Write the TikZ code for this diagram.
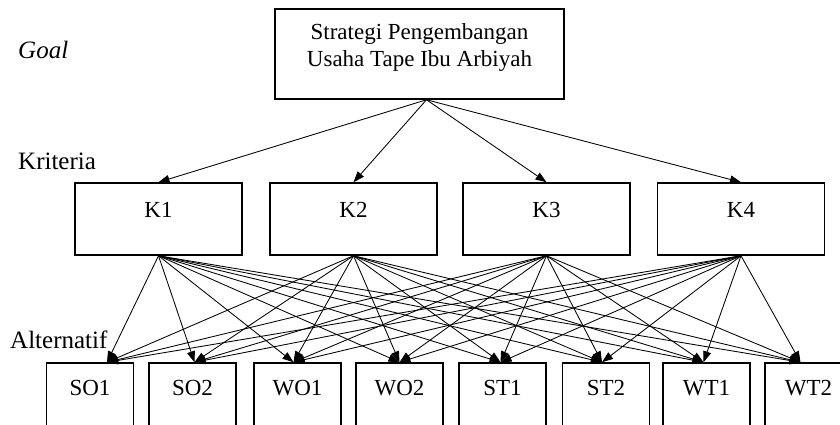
\documentclass[tikz,border=0pt]{standalone}
\usepackage{fontspec}
\setmainfont{Liberation Serif}
\usetikzlibrary{arrows.meta}
\tikzstyle{box}=[draw,line width=1.5pt,inner sep=0pt,font=\fontsize{23}{27}\selectfont]
\tikzstyle{kbox}=[box,minimum width=167pt,text height=34pt,text depth=38pt]
\tikzstyle{abox}=[box,minimum width=87pt,text height=32pt,text depth=40pt]
\tikzstyle{lbl}=[anchor=base west,inner sep=0pt,font=\fontsize{25}{29}\selectfont]
\tikzstyle{edge}=[-{Triangle[length=11pt,width=8pt]},line width=0.85pt]

\begin{document}
\begin{tikzpicture}[x=1pt,y=-1pt]
        \useasboundingbox (0,0) rectangle (840,425);
        \clip (0,0) rectangle (840,425);
        \fill[white] (0,0) rectangle (840,425);
        % level labels
        \node at (18,59) [lbl] (LG) {\itshape Goal};
        \node at (18,169) [lbl] (LK) {Kriteria};
        \node at (10,348) [lbl] (LA) {Alternatif};
        % goal
        \node at (419.5,54) [box,minimum width=289pt,text height=58pt,text depth=32pt] (G)
          {\begin{tabular}[b]{@{}c@{}}Strategi Pengembangan\\Usaha Tape Ibu Arbiyah\end{tabular}};
        % criteria
        \node at (158.5,219) [kbox] (K1) {K1};
        \node at (353.5,219) [kbox] (K2) {K2};
        \node at (546.5,219) [kbox] (K3) {K3};
        \node at (741,219) [kbox] (K4) {K4};
        % alternatives
        \node at (90,399) [abox] (SO1) {SO1};
        \node at (192.5,399) [abox] (SO2) {SO2};
        \node at (297.5,399) [abox] (WO1) {WO1};
        \node at (399.5,399) [abox] (WO2) {WO2};
        \node at (502.5,399) [abox] (ST1) {ST1};
        \node at (606,399) [abox] (ST2) {ST2};
        \node at (706.5,399) [abox] (WT1) {WT1};
        \node at (808.5,399) [abox] (WT2) {WT2};
        % edges
        \foreach \k in {K1,K2,K3,K4}
          \draw [edge] ([xshift=7pt]G.south) to (\k.north);
        \foreach \k in {K1,K2,K3,K4}
          \foreach \a/\dx in {SO1/17,SO2/2,WO1/-4,WO2/0,ST1/-2,ST2/-4,WT1/-3,WT2/-8}
            \draw [edge] (\k.south) to ([xshift=\dx pt]\a.north);
\end{tikzpicture}
\end{document}
